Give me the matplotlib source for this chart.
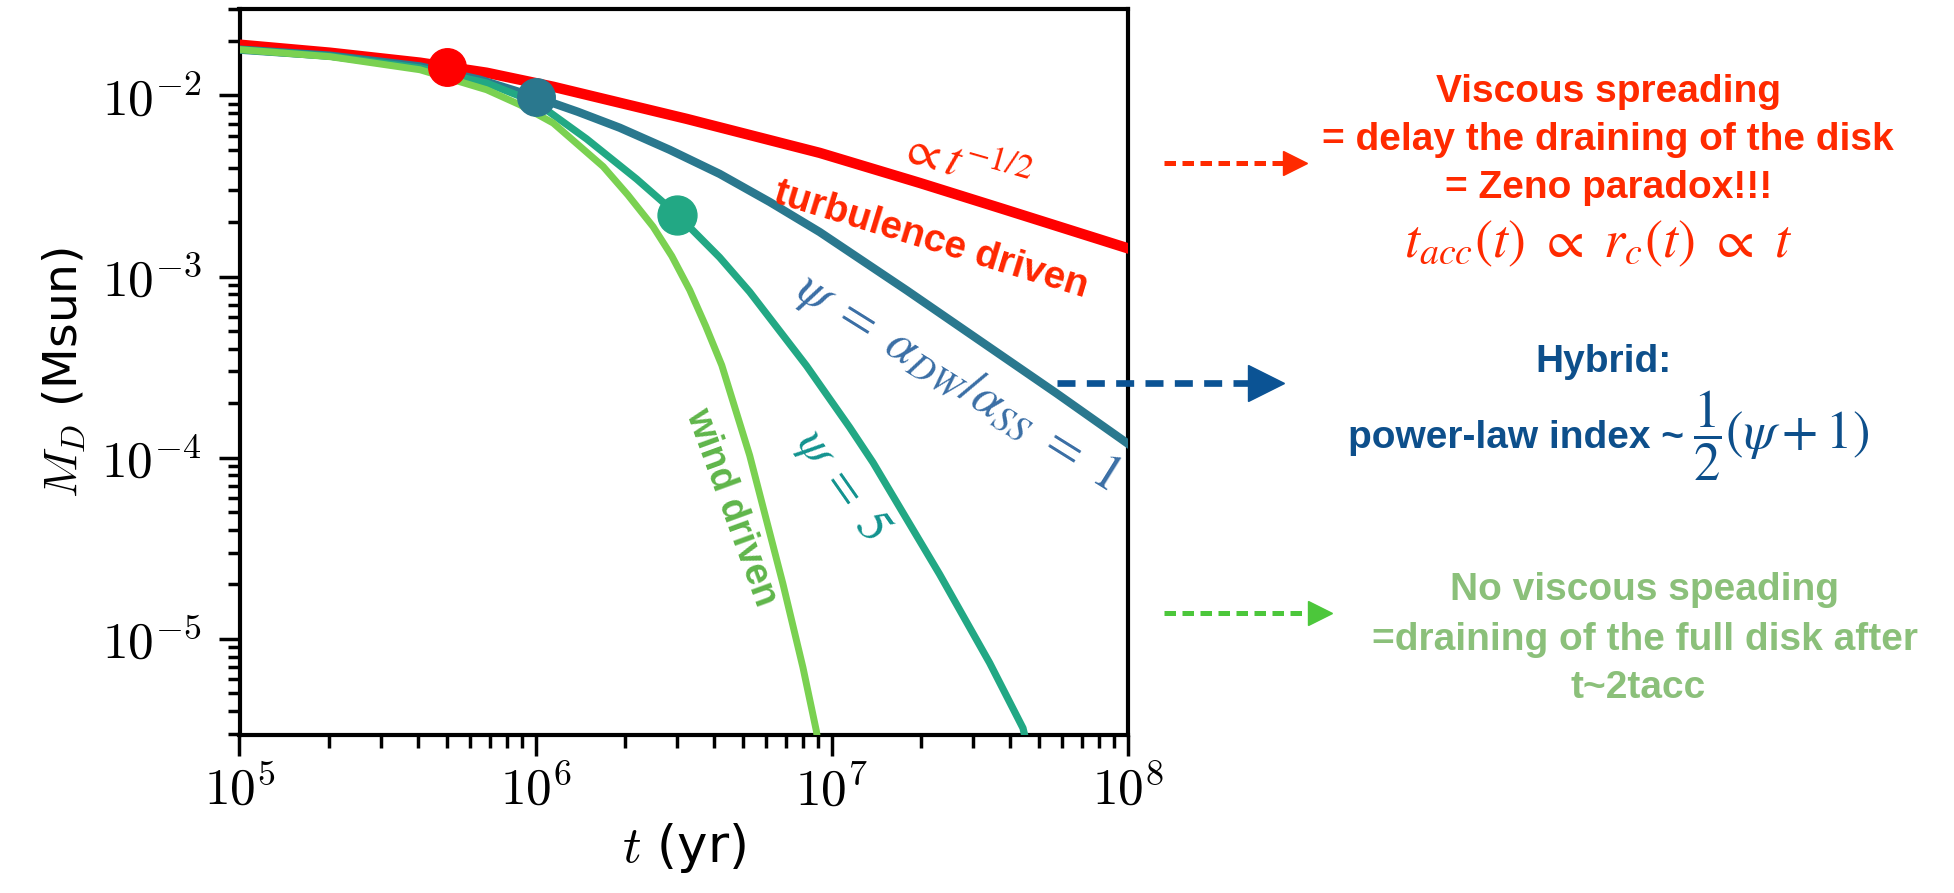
import numpy as np
import matplotlib
matplotlib.use('Agg')
import matplotlib.pyplot as plt
from matplotlib.lines import Line2D
from matplotlib.ticker import FuncFormatter

plt.rcParams['mathtext.fontset'] = 'cm'
plt.rcParams['font.family'] = 'DejaVu Sans'

# disc mass vs time
t_turb = [1e5, 2.02e5, 4.07e5, 6.83e5, 1.146e6, 3.23e6, 9.1e6, 1.98e7, 3.74e7, 1e8]
M_turb = [1.907e-2, 1.722e-2, 1.517e-2, 1.335e-2, 1.117e-2, 7.43e-3, 4.82e-3, 3.29e-3, 2.377e-3, 1.432e-3]

t_psi1 = [1e5, 2.02e5, 4.07e5, 6.48e5, 1.005e6, 1.388e6, 1.924e6, 2.837e6, 4.18e6, 6.17e6,
          9.1e6, 1.786e7, 3.41e7, 5.74e7, 1e8]
M_psi1 = [1.79e-2, 1.658e-2, 1.446e-2, 1.221e-2, 9.77e-3, 8.125e-3, 6.63e-3, 5.007e-3, 3.69e-3, 2.582e-3,
          1.762e-3, 8.42e-4, 4.07e-4, 2.267e-4, 1.195e-4]

t_psi5 = [1e5, 2.02e5, 4.07e5, 6.83e5, 1.007e6, 1.485e6, 2.19e6, 2.99e6, 4.18e6, 5.28e6,
          8.21e6, 1.149e7, 1.377e7, 2.31e7, 3.41e7, 4.42e7, 4.51e7]
M_psi5 = [1.79e-2, 1.647e-2, 1.417e-2, 1.171e-2, 9.11e-3, 5.76e-3, 3.46e-3, 2.216e-3, 1.277e-3, 8.23e-4,
          3.22e-4, 1.471e-4, 9.42e-5, 2.279e-5, 7.38e-6, 3.22e-6, 2.8e-6]

t_wind = [1e5, 2.02e5, 4.07e5, 6.83e5, 8.85e5, 1.146e6, 1.69e6, 2.048e6, 2.492e6, 2.882e6,
          3.314e6, 3.753e6, 4.25e6, 5.28e6, 6.84e6, 7.99e6, 8.87e6, 8.96e6]
M_wind = [1.79e-2, 1.637e-2, 1.386e-2, 1.075e-2, 8.88e-3, 7.04e-3, 4.05e-3, 2.823e-3, 1.886e-3, 1.298e-3,
          8.42e-4, 5.32e-4, 3.24e-4, 1.03e-4, 2.01e-5, 6.95e-6, 3.1e-6, 2.73e-6]

t_mark = [5e5, 1e6, 3e6]
M_mark = [1.44e-2, 9.8e-3, 2.19e-3]

c_turb = '#ff0000'
c_psi1 = '#2a788e'
c_psi5 = '#22a884'
c_wind = '#7ad151'
mark_cols = [c_turb, c_psi1, c_psi5]
mark_sizes = [27, 27, 28]

W, H = 1954, 893
fig = plt.figure(figsize=(W / 100, H / 100), dpi=100)
ax = fig.add_axes([239.5 / W, 1 - 735 / H, (1128 - 239.5) / W, (735 - 9) / H])

ax.plot(t_turb, M_turb, color=c_turb, lw=7.5, zorder=3)
ax.plot(t_psi1, M_psi1, color=c_psi1, lw=6, zorder=3)
ax.plot(t_psi5, M_psi5, color=c_psi5, lw=5.2, zorder=3)
ax.plot(t_wind, M_wind, color=c_wind, lw=5, zorder=4)
for tm, mm, cc, ms in zip(t_mark, M_mark, mark_cols, mark_sizes):
    ax.plot(tm, mm, 'o', color=cc, ms=ms, zorder=5)

ax.set_xscale('log')
ax.set_yscale('log')
ax.set_xlim(1e5, 1e8)
ax.set_ylim(2.95e-6, 3e-2)
pow10 = FuncFormatter(lambda v, p: r'$10^{%d}$' % round(np.log10(v)))
ax.xaxis.set_major_formatter(pow10)
ax.yaxis.set_major_formatter(pow10)

for s in ax.spines.values():
    s.set_linewidth(3)
ax.tick_params(which='major', direction='out', length=15, width=2.5, labelsize=37, pad=7,
               top=False, right=False)
ax.tick_params(which='minor', direction='out', length=9, width=2.5, top=False, right=False)
ax.tick_params(axis='y', which='major', pad=12)

ax.set_xlabel('$t$ (yr)', fontsize=37, labelpad=4)
ax.set_ylabel('$M_D$ (Msun)', fontsize=34, labelpad=10)

# labels along the curves
ax.text(965 / W, 1 - 164 / H, r'$\propto t^{-1/2}$', transform=fig.transFigure, color='#ff2600',
        fontsize=35, rotation=-16, ha='center', va='center', rotation_mode='anchor',
        math_fontfamily='stix')
ax.text(931 / W, 1 - 240 / H, 'turbulence driven', transform=fig.transFigure, color='#ff2600',
        fontsize=28, fontweight='bold', family='Liberation Sans', rotation=-17,
        ha='center', va='center', rotation_mode='anchor')
ax.text(957 / W, 1 - 382 / H, r'$\psi\ =\ \alpha_{DW}/\alpha_{SS}\ =\ 1$', transform=fig.transFigure,
        color='#3a6ea5', fontsize=37, rotation=-32, ha='center', va='center',
        rotation_mode='anchor', math_fontfamily='stix')
ax.text(842 / W, 1 - 485 / H, r'$\psi\ =\ 5$', transform=fig.transFigure, color='#12938f',
        fontsize=36, rotation=-55, ha='center', va='center', rotation_mode='anchor',
        math_fontfamily='stix')
ax.text(731 / W, 1 - 507 / H, 'wind driven', transform=fig.transFigure, color='#5fb54a',
        fontsize=27, fontweight='bold', family='Liberation Sans', rotation=-70,
        ha='center', va='center', rotation_mode='anchor')


def dashed_arrow(x0, x1, y, color, lw, dash, head):
    yf = 1 - y / H
    fig.add_artist(Line2D([x0 / W, (x1 - head * 0.6) / W], [yf, yf], color=color, lw=lw,
                          linestyle=(0, dash), transform=fig.transFigure))
    fig.add_artist(Line2D([(x1 - head * 0.45) / W], [yf], marker='>', ms=head * 0.72,
                          color=color, mec=color, transform=fig.transFigure))


dashed_arrow(1164, 1306, 162.7, '#ff2a00', 3.6, (2.3, 1.3), 24)
dashed_arrow(1057, 1282, 383, '#0b5394', 4.8, (2.7, 1.7), 36)
dashed_arrow(1164, 1331, 613, '#4cc73b', 3.6, (2.3, 1.3), 24)

bold = dict(fontsize=28, fontweight='bold', family='Liberation Sans', ha='center', va='baseline')
red = '#ff2a00'
fig.text(1608 / W, 1 - 101.7 / H, 'Viscous spreading', color=red, **bold)
fig.text(1608 / W, 1 - 150 / H, '= delay the draining of the disk', color=red, **bold)
fig.text(1609 / W, 1 - 198 / H, '= Zeno paradox!!!', color=red, **bold)
fig.text(1598 / W, 1 - 257 / H, r'$t_{acc}(t)\ \propto\ r_c(t)\ \propto\ t$', color=red, fontsize=39,
         ha='center', va='baseline', math_fontfamily='stix')

blue = '#0d4f8b'
fig.text(1604 / W, 1 - 372 / H, 'Hybrid:', color=blue, **bold)
fig.text(1684 / W, 1 - 448 / H, 'power-law index ~', color=blue, fontsize=28, fontweight='bold',
         family='Liberation Sans', ha='right', va='baseline')
fig.text(1693 / W, 1 - 436 / H, r'$\dfrac{1}{2}(\psi + 1)$', color=blue, fontsize=38,
         ha='left', va='center', math_fontfamily='stix')

green = '#8bc07a'
fig.text(1645 / W, 1 - 600 / H, 'No viscous speading', color=green, **bold)
fig.text(1645 / W, 1 - 650 / H, '=draining of the full disk after', color=green, **bold)
fig.text(1638 / W, 1 - 698 / H, 't~2tacc', color=green, **bold)

fig.savefig('out.png', dpi=100)
